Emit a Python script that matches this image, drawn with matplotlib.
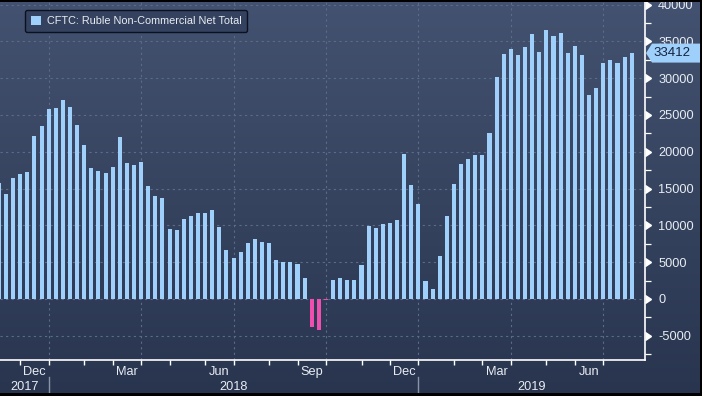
import numpy as np
import pandas as pd
import matplotlib
matplotlib.use("Agg")
import matplotlib.pyplot as plt
from matplotlib.colors import LinearSegmentedColormap
from matplotlib.patches import Polygon, Rectangle
from matplotlib.transforms import blended_transform_factory, IdentityTransform

# ---------------- data ----------------
start_date = "2017-11-14"
values = [15700, 14300, 16400, 17000, 17300, 22100, 23500, 25800, 26000, 27000,
          26100, 23600, 20900, 17800, 17400, 17100, 17900, 22000, 18500, 18200,
          18600, 15400, 14000, 13700, 9500, 9400, 10900, 11300, 11700, 11700,
          12100, 9800, 6700, 5600, 6400, 7600, 8200, 7700, 7600, 5300,
          5000, 5000, 4800, 2900, -3800, -4200, -200, 2600, 2900, 2600,
          2600, 4600, 9900, 9600, 10200, 10300, 10700, 19700, 15500, 12900,
          2400, 1400, 5800, 11300, 15600, 18300, 19000, 19600, 19600, 22600,
          30200, 33300, 34000, 33200, 34200, 36000, 33600, 36500, 35700, 36100,
          33400, 34400, 33200, 27700, 28700, 32100, 32500, 32100, 32900, 33412]
series_label = "CFTC: Ruble Non-Commercial Net Total"
yticks = [-5000, 0, 5000, 10000, 15000, 20000, 25000, 30000, 35000, 40000]
month_names = {3: "Mar", 6: "Jun", 9: "Sep", 12: "Dec"}

dates = pd.date_range(start_date, periods=len(values), freq="7D")
idx = np.arange(len(values))

# ---------------- style ----------------
FONT = "Liberation Sans"
plt.rcParams["font.family"] = [FONT, "DejaVu Sans"]
TXT = "#e9edf3"
POS = "#9ed0fb"
NEG = "#f04fb0"
GRID = "#5c6c88"
FS = 9.2

W, H = 702, 396
fig = plt.figure(figsize=(W / 100, H / 100), dpi=100)

# gradient background
bg = fig.add_axes([0, 0, 1, 1], zorder=-10)
grad = np.linspace(0, 1, 256).reshape(-1, 1)
cmap = LinearSegmentedColormap.from_list("bg", ["#435270", "#29354f"])
bg.imshow(grad, aspect="auto", cmap=cmap, extent=[0, 1, 0, 1], origin="upper")
bg.set_axis_off()

ax = fig.add_axes([0, 36 / H, 645 / W, 359 / H])
ax.set_facecolor("none")

colors = [POS if v >= 0 else NEG for v in values]
bars = ax.bar(idx, values, width=0.57, color=colors, label=series_label, zorder=3)

ax.set_xlim(0.156, 90.87)
ax.set_ylim(-8290, 40490)

# spines
for s in ["left", "top"]:
    ax.spines[s].set_visible(False)
for s in ["right", "bottom"]:
    ax.spines[s].set_color("white")
    ax.spines[s].set_linewidth(1.2)

# y axis (right)
ax.yaxis.tick_right()
ax.set_yticks(yticks)
ax.set_yticklabels([str(t) for t in yticks])
ax.set_yticks([t + 2500 for t in yticks[:-1]] + [yticks[0] - 2500], minor=True)
ax.tick_params(axis="y", which="major", length=0, pad=9.5, labelsize=FS, labelcolor=TXT)
ax.tick_params(axis="y", which="minor", length=4, width=0.9, color="white", direction="out")
ax.yaxis.grid(True, which="major", linestyle=(0, (2, 3)), color=GRID, linewidth=0.8, zorder=0)
trans_y = blended_transform_factory(ax.transAxes, ax.transData)
ax.plot([1.0] * len(yticks), yticks, linestyle="none", marker=9, markersize=6,
        color="white", transform=trans_y, clip_on=False, zorder=5)

# x axis: ticks at the first bar of each month
first_of_month = [i for i in idx if dates[i].day <= 7]
ax.set_xticks(first_of_month)
ax.set_xticklabels([])
ax.tick_params(axis="x", which="major", length=3.5, width=1, color="white", direction="out")

quarter_starts = [i for i in first_of_month if dates[i].month in (1, 4, 7, 10)]
for q in quarter_starts:
    ax.axvline(q, linestyle=(0, (2, 3)), color=GRID, linewidth=0.8, zorder=0)

trans_x = blended_transform_factory(ax.transData, ax.transAxes)
# month labels centered in the month span
for k, i in enumerate(first_of_month[:-1]):
    m = dates[i].month
    if m in month_names:
        c = (i + first_of_month[k + 1]) / 2
        ax.text(c, -0.033, month_names[m], transform=trans_x, ha="center", va="center",
                fontsize=FS, color=TXT, clip_on=False)

# year separators and labels
jan_starts = [i for i in first_of_month if dates[i].month == 1]
for j in jan_starts:
    ax.plot([j, j], [-0.047, -0.092], transform=trans_x, color="#8a94a8", linewidth=1,
            clip_on=False)
xl, xr = ax.get_xlim()
bounds = [xl] + jan_starts + [xr]
years = [dates[0].year] + [dates[j].year for j in jan_starts]
for y, a, b in zip(years, bounds[:-1], bounds[1:]):
    ax.text((a + b) / 2, -0.075, str(y), transform=trans_x, ha="center", va="center",
            fontsize=FS, color=TXT, clip_on=False)

# legend
leg = ax.legend(handles=[bars], loc="upper left", bbox_to_anchor=(25 / 645, 1 - 9 / 359),
                borderaxespad=0, fontsize=7.8, handlelength=0.95, handleheight=0.95,
                handletextpad=0.5, borderpad=0.55, frameon=True, fancybox=True)
leg.get_frame().set_facecolor("#34425f")
leg.get_frame().set_edgecolor("#0c1120")
leg.get_frame().set_linewidth(1.0)
leg.get_frame().set_alpha(1)
for t in leg.get_texts():
    t.set_color(TXT)

# last value label
last = values[-1]
yd = ax.transData.transform((0, last))[1]
x0 = 646
poly = Polygon([[x0, yd], [x0 + 6, yd + 9.5], [W, yd + 9.5], [W, yd - 9.5], [x0 + 6, yd - 9.5]],
               closed=True, facecolor=POS, edgecolor="none", transform=IdentityTransform(),
               zorder=10)
fig.add_artist(poly)
fig.text(653 / W, yd / H, f"{last}", ha="left", va="center", fontsize=FS + 0.3, color="#15233f",
         zorder=11)

# dark frame edges
fig.add_artist(Rectangle((0, 1 - 1.5 / H), 1, 1.5 / H, transform=fig.transFigure,
                         facecolor="black", edgecolor="none"))
fig.add_artist(Rectangle((0, 0), 1, 3 / H, transform=fig.transFigure,
                         facecolor="black", edgecolor="none"))
fig.add_artist(Rectangle((1 - 2.5 / W, 0), 2.5 / W, 1, transform=fig.transFigure,
                         facecolor="black", edgecolor="none", zorder=12))

fig.savefig("out.png", dpi=100)
